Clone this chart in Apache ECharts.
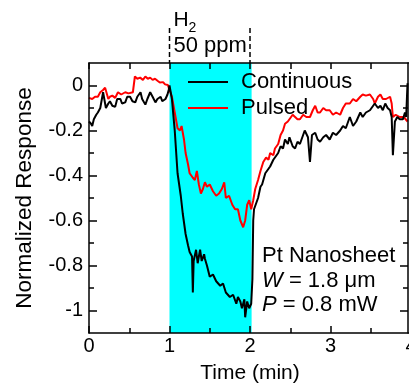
<!DOCTYPE html>
<html>
<head>
<meta charset="utf-8">
<script src="https://cdn.jsdelivr.net/npm/echarts@6/dist/echarts.min.js"></script>
<style>html,body{margin:0;padding:0;background:#fff;overflow:hidden;}#c{width:409px;height:384px;}</style>
</head>
<body>
<div id="c"></div>
<script>
// Time (min), normalized response
const continuous = [
[0,-0.16],[0.025,-0.17],[0.04,-0.18],[0.06,-0.15],[0.09,-0.13],[0.11,-0.12],[0.14,-0.10],[0.175,-0.03],[0.20,-0.08],[0.21,-0.10],
[0.24,-0.08],[0.26,-0.07],[0.29,-0.09],[0.325,-0.095],[0.35,-0.06],[0.39,-0.06],[0.41,-0.08],[0.45,-0.075],[0.475,-0.05],[0.51,-0.05],
[0.54,-0.07],[0.575,-0.075],[0.60,-0.05],[0.64,-0.03],[0.66,-0.06],[0.70,-0.085],[0.725,-0.06],[0.76,-0.03],[0.79,-0.05],[0.825,-0.075],
[0.85,-0.06],[0.89,-0.05],[0.91,-0.07],[0.95,-0.06],[0.975,-0.04],[0.99,-0.02],[1.0,0.0],[1.03,-0.06],[1.065,-0.2],[1.10,-0.39],
[1.14,-0.49],[1.165,-0.57],[1.20,-0.66],[1.23,-0.71],[1.25,-0.74],[1.28,-0.76],[1.29,-0.92],[1.30,-0.78],[1.33,-0.73],[1.35,-0.79],
[1.38,-0.73],[1.40,-0.78],[1.43,-0.75],[1.44,-0.77],[1.465,-0.80],[1.50,-0.85],[1.54,-0.84],[1.58,-0.87],[1.63,-0.89],[1.665,-0.88],
[1.70,-0.92],[1.75,-0.94],[1.79,-0.93],[1.83,-0.97],[1.85,-0.94],[1.88,-0.96],[1.90,-0.99],[1.93,-0.95],[1.94,-1.03],[1.965,-0.96],
[1.99,-0.99],[2.015,-0.97],[2.03,-0.86],[2.04,-0.60],[2.05,-0.55],[2.08,-0.52],[2.10,-0.50],[2.13,-0.45],[2.15,-0.44],[2.19,-0.39],
[2.23,-0.37],[2.25,-0.36],[2.29,-0.33],[2.31,-0.32],[2.35,-0.30],[2.38,-0.27],[2.41,-0.28],[2.435,-0.24],[2.47,-0.26],[2.49,-0.23],
[2.53,-0.27],[2.56,-0.28],[2.59,-0.25],[2.62,-0.26],[2.66,-0.22],[2.68,-0.20],[2.72,-0.23],[2.745,-0.34],[2.77,-0.22],[2.81,-0.21],
[2.84,-0.24],[2.87,-0.25],[2.91,-0.23],[2.945,-0.22],[2.99,-0.24],[3.03,-0.21],[3.07,-0.22],[3.12,-0.20],[3.155,-0.18],[3.19,-0.19],
[3.24,-0.14],[3.28,-0.18],[3.32,-0.16],[3.37,-0.12],[3.40,-0.14],[3.44,-0.12],[3.49,-0.11],[3.53,-0.09],[3.55,-0.08],[3.59,-0.10],
[3.62,-0.09],[3.65,-0.11],[3.68,-0.08],[3.71,-0.10],[3.74,-0.11],[3.76,-0.14],[3.775,-0.31],[3.80,-0.16],[3.83,-0.14],[3.86,-0.15],
[3.90,-0.15],[3.925,-0.12],[3.94,-0.14],[3.95,-0.05],[3.957,0.01]
];
const pulsed = [
[0,-0.055],[0.04,-0.06],[0.075,-0.05],[0.11,-0.05],[0.14,-0.03],[0.175,-0.02],[0.20,-0.01],[0.24,-0.06],[0.26,-0.05],[0.29,-0.045],
[0.325,-0.055],[0.36,-0.03],[0.40,-0.04],[0.45,-0.03],[0.49,-0.035],[0.51,-0.04],[0.545,-0.03],[0.57,0.04],[0.60,0.03],[0.635,0.035],
[0.67,0.025],[0.70,0.04],[0.73,0.03],[0.76,0.035],[0.79,0.025],[0.82,0.03],[0.855,0.02],[0.88,0.013],[0.92,0.015],[0.945,0.005],
[0.98,0.002],[1.0,0.0],[1.03,-0.05],[1.065,-0.12],[1.10,-0.19],[1.13,-0.2],[1.15,-0.18],[1.18,-0.24],[1.20,-0.30],[1.23,-0.35],
[1.25,-0.39],[1.29,-0.41],[1.315,-0.42],[1.34,-0.38],[1.365,-0.44],[1.39,-0.48],[1.415,-0.46],[1.44,-0.43],[1.465,-0.45],[1.50,-0.44],
[1.54,-0.47],[1.58,-0.49],[1.615,-0.48],[1.65,-0.46],[1.68,-0.43],[1.70,-0.50],[1.74,-0.49],[1.78,-0.53],[1.815,-0.55],[1.85,-0.55],
[1.88,-0.60],[1.915,-0.63],[1.94,-0.60],[1.965,-0.53],[1.99,-0.51],[2.015,-0.55],[2.04,-0.51],[2.065,-0.46],[2.10,-0.42],[2.13,-0.38],
[2.165,-0.34],[2.20,-0.32],[2.23,-0.33],[2.25,-0.30],[2.29,-0.31],[2.31,-0.28],[2.35,-0.26],[2.38,-0.22],[2.41,-0.20],[2.435,-0.17],
[2.47,-0.16],[2.49,-0.165],[2.53,-0.13],[2.56,-0.14],[2.59,-0.15],[2.62,-0.15],[2.66,-0.13],[2.70,-0.14],[2.745,-0.14],[2.78,-0.11],
[2.81,-0.09],[2.84,-0.12],[2.87,-0.12],[2.91,-0.10],[2.945,-0.11],[2.99,-0.11],[3.03,-0.13],[3.07,-0.12],[3.12,-0.13],[3.155,-0.10],
[3.19,-0.08],[3.24,-0.08],[3.28,-0.06],[3.32,-0.07],[3.37,-0.05],[3.40,-0.04],[3.44,-0.045],[3.49,-0.04],[3.53,-0.06],[3.55,-0.08],
[3.59,-0.05],[3.62,-0.04],[3.65,-0.06],[3.69,-0.06],[3.74,-0.05],[3.76,-0.08],[3.775,-0.14],[3.81,-0.13],[3.86,-0.14],[3.91,-0.14],
[3.957,-0.16]
];
const exposure = [1.0, 2.02];           // H2 on / off (min)
const yMajorTicks = [0, -0.2, -0.4, -0.6, -0.8, -1];
const yMinorTicks = [-0.1, -0.3, -0.5, -0.7, -0.9];
const xRange = [0, 4];
const yRange = [-1.1, 0.1];

const FONT = 'Liberation Sans, Arial, sans-serif';
const chart = echarts.init(document.getElementById('c'), null, {renderer: 'canvas'});

const yBase = (pos, ticks, len, labels, offset) => ({
  type: 'value', position: pos, offset: offset || 0, min: yRange[0], max: yRange[1], interval: 0.1, z: 10,
  axisLine: {show: labels !== false, onZero: false, lineStyle: {color: '#000', width: 1.5}},
  axisTick: {show: true, inside: true, length: len, customValues: ticks, lineStyle: {color: '#000', width: 1.5}},
  axisLabel: labels === true ? {show: true, customValues: ticks, color: '#000', fontSize: 20, fontFamily: FONT, margin: 6,
    formatter: v => (Math.abs(v) < 1e-9 ? '0' : String(+v.toFixed(1)))} : {show: false},
  splitLine: {show: false}
});

chart.setOption({
  animation: false,
  grid: {left: 89, top: 63, right: -2, bottom: 51, containLabel: false, outerBoundsMode: 'none'},
  legend: {
    orient: 'vertical', left: 188, top: 69, padding: 0, itemWidth: 40, itemHeight: 2, itemGap: 0, icon: 'rect',
    textStyle: {color: '#000', fontSize: 22, fontFamily: FONT, lineHeight: 26, padding: [0, 0, 0, 8]},
    data: ['Continuous', 'Pulsed']
  },
  xAxis: [
    {type: 'value', position: 'bottom', min: xRange[0], max: xRange[1], interval: 1, z: 10,
     name: 'Time (min)', nameLocation: 'middle', nameGap: 30,
     nameTextStyle: {color: '#000', fontSize: 21, fontFamily: FONT},
     axisLine: {onZero: false, lineStyle: {color: '#000', width: 1.5}},
     axisTick: {inside: true, length: 7, lineStyle: {color: '#000', width: 1.5}},
     minorTick: {show: true, splitNumber: 2, length: 5, lineStyle: {color: '#000', width: 1.5}},
     axisLabel: {color: '#000', fontSize: 20, fontFamily: FONT, margin: 3},
     splitLine: {show: false}, minorSplitLine: {show: false}},
    {type: 'value', position: 'top', min: xRange[0], max: xRange[1], interval: 0.5, z: 10,
     axisLine: {onZero: false, lineStyle: {color: '#000', width: 1.5}},
     axisTick: {inside: true, length: 6, lineStyle: {color: '#000', width: 1.5}},
     axisLabel: {show: false}, splitLine: {show: false}}
  ],
  yAxis: [
    Object.assign(yBase('left', yMajorTicks, 8, true), {
      name: 'Normalized Response', nameLocation: 'middle', nameGap: 53, nameRotate: 90,
      nameTextStyle: {color: '#000', fontSize: 22.5, fontFamily: FONT}}),
    yBase('left', yMinorTicks, 5, false),
    yBase('right', yMajorTicks, 8, 'line', -3),
    yBase('right', yMinorTicks, 5, false, -3)
  ],
  series: [
    {type: 'line', name: '_exposure', data: [], z: 1, silent: true,
     markArea: {silent: true, itemStyle: {color: '#00FFFF', opacity: 1},
       data: [[{xAxis: exposure[0]}, {xAxis: exposure[1]}]]}},
    {type: 'line', name: 'Pulsed', data: pulsed, showSymbol: false, symbol: 'none', z: 3,
     lineStyle: {color: '#FF0000', width: 2}, itemStyle: {color: '#FF0000'}},
    {type: 'line', name: 'Continuous', data: continuous, showSymbol: false, symbol: 'none', z: 4,
     lineStyle: {color: '#000', width: 2}, itemStyle: {color: '#000'}}
  ]
});

// Dashed H2 exposure markers above the plot, positioned by the x scale
const xa = chart.convertToPixel({xAxisIndex: 0}, exposure[0]);
const xb = chart.convertToPixel({xAxisIndex: 0}, 2);
const topY = chart.convertToPixel({yAxisIndex: 0}, yRange[1]);
const dash = {stroke: '#000', lineWidth: 1.5, lineDash: [5, 3]};
const rich = {i: {fontStyle: 'italic', fontSize: 22, fontFamily: FONT, fill: '#000'}, n: {fontSize: 22, fontFamily: FONT, fill: '#000'}};
chart.setOption({
  graphic: [
    {type: 'line', shape: {x1: xa, y1: 28, x2: xa, y2: topY}, style: dash, z: 20},
    {type: 'line', shape: {x1: xb, y1: 28, x2: xb, y2: topY}, style: dash, z: 20},
    {type: 'text', left: xa + 4, top: 10, style: {text: 'H', fill: '#000', font: '21px ' + FONT}, z: 20},
    {type: 'text', left: xa + 19, top: 21, style: {text: '2', fill: '#000', font: '14px ' + FONT}, z: 20},
    {type: 'text', left: xa + 4, top: 35, style: {text: '50 ppm', fill: '#000', font: '22px ' + FONT}, z: 20},
    {type: 'text', left: 262, top: 245, style: {text: 'Pt Nanosheet', fill: '#000', font: '22px ' + FONT}, z: 20},
    {type: 'text', left: 262, top: 270, style: {rich: rich, text: '{i|W}{n| = 1.8 μm}'}, z: 20},
    {type: 'text', left: 262, top: 294, style: {rich: rich, text: '{i|P}{n| = 0.8 mW}'}, z: 20}
  ]
});
</script>
</body>
</html>
